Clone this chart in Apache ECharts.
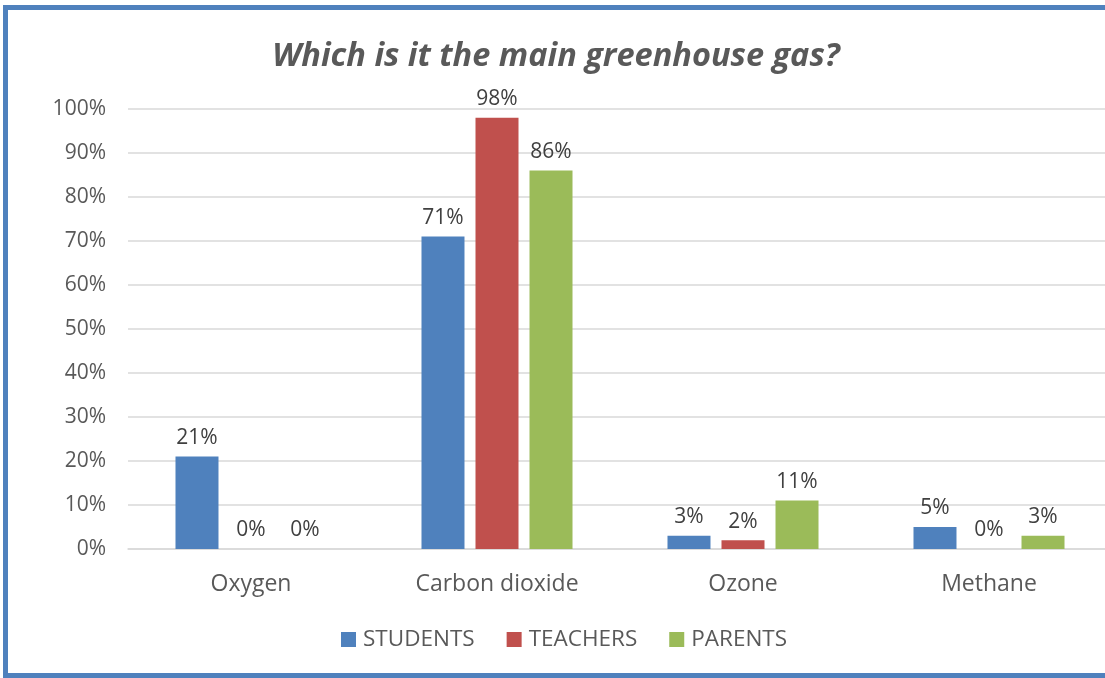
<!DOCTYPE html>
<html><head><meta charset="utf-8">
<script src="https://cdn.jsdelivr.net/npm/echarts@6/dist/echarts.min.js"></script>
<style>html,body{margin:0;padding:0;background:#fff;overflow:hidden}#c{width:1112px;height:678px}</style>
</head><body><div id="c"></div>
<script>
const categories = ['Oxygen', 'Carbon dioxide', 'Ozone', 'Methane'];
const students = [21, 71, 3, 5];
const teachers = [0, 98, 2, 0];
const parents = [0, 86, 11, 3];
const seriesNames = ['STUDENTS', 'TEACHERS', 'PARENTS'];
const titleText = 'Which is it the main greenhouse gas?';

const FONT = '"Open Sans", sans-serif';
const chart = echarts.init(document.getElementById('c'));
const mk = (name, data, color) => ({
  name, type: 'bar', data, barWidth: 43, barGap: '25.6%',
  itemStyle: { color },
  label: { show: true, position: 'top', distance: 8, formatter: p => p.value + '%', color: '#404040', fontSize: 21, fontFamily: FONT }
});
chart.setOption({
  animation: false,
  title: { text: titleText, left: 'center', top: 35, textStyle: { fontFamily: FONT, fontSize: 32.5, fontWeight: 'bold', fontStyle: 'italic', color: '#595959' } },
  graphic: [{ type: 'rect', shape: { x: 5.5, y: 7.5, width: 1200, height: 668 }, style: { fill: 'none', stroke: '#4f81bd', lineWidth: 5 }, z: 100 }],
  legend: { bottom: 22, left: 336, itemWidth: 15, itemHeight: 15, itemGap: 32, icon: 'rect', textStyle: { fontFamily: FONT, fontSize: 22.5, color: '#595959', padding: [0, 0, 0, 2] }, data: seriesNames },
  grid: { left: 128, right: 0, top: 109, bottom: 129 },
  xAxis: { type: 'category', data: categories, axisTick: { show: false }, axisLine: { lineStyle: { color: '#d9d9d9', width: 1.5 } }, axisLabel: { margin: 24, fontFamily: FONT, fontSize: 23, color: '#595959' } },
  yAxis: { type: 'value', min: 0, max: 100, interval: 10, axisLabel: { formatter: '{value}%', margin: 22, fontFamily: FONT, fontSize: 21, color: '#595959' }, splitLine: { lineStyle: { color: '#d9d9d9', width: 1.5 } }, axisLine: { show: false } },
  series: [mk(seriesNames[0], students, '#4f81bd'), mk(seriesNames[1], teachers, '#c0504d'), mk(seriesNames[2], parents, '#9bbb59')]
});
</script></body></html>
